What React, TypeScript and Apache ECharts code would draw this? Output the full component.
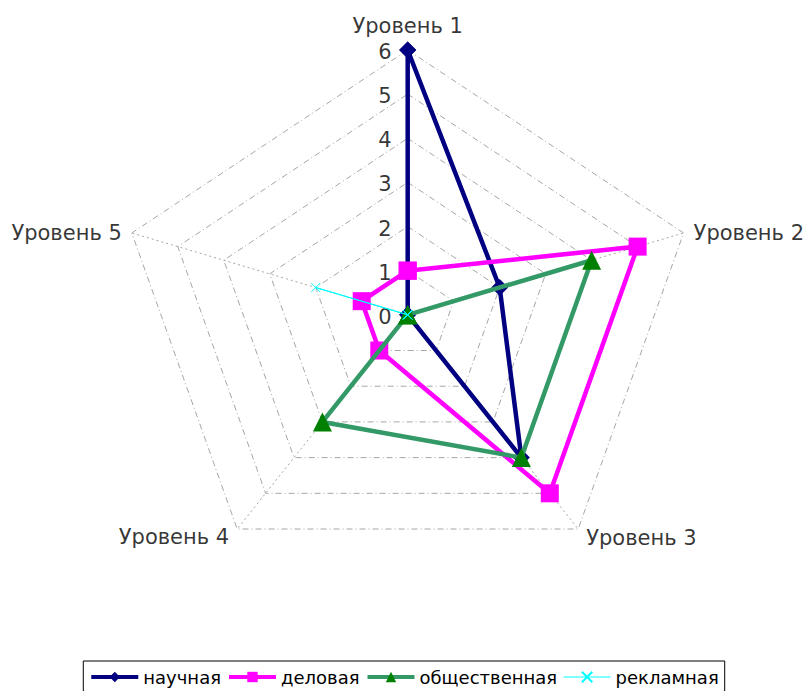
import React, { useEffect, useRef } from "react";
import * as echarts from "echarts";

const categories = ["Уровень 1", "Уровень 2", "Уровень 3", "Уровень 4", "Уровень 5"];
const tickLabels = [0, 1, 2, 3, 4, 5, 6];
const seriesNames = ["научная", "деловая", "общественная", "рекламная"];
const nauchnaya = [6, 2, 4, 0, 0];
const delovaya = [1, 5, 5, 1, 1];
const obshchestvennaya = [0, 4, 4, 3, 0];
const reklamnaya = [0, 0, 0, 0, 2];

const MAXV = 6;

function toXY(v: number, i: number): [number, number] {
  const a = ((90 - 72 * i) * Math.PI) / 180;
  return [v * Math.cos(a), v * Math.sin(a)];
}

function closedPolygon(values: number[]): [number, number][] {
  const pts = values.map((v, i) => toXY(v, i));
  pts.push(pts[0]);
  return pts;
}

export default function App() {
  const ref = useRef<HTMLDivElement>(null);

  useEffect(() => {
    document.body.style.margin = "0";
    if (!ref.current) return;
    const chart = echarts.init(ref.current, undefined, { renderer: "svg" });
    const font = "DejaVu Sans";

    const ringSeries: any[] = tickLabels
      .filter((k) => k > 0)
      .map((k) => ({
        type: "line",
        name: "ring" + k,
        data: closedPolygon(categories.map(() => k)),
        symbol: "none",
        silent: true,
        lineStyle: { color: "#a6a6a6", width: 1, type: [6, 3, 1, 3] },
        z: 1,
      }));

    const spokeSeries: any[] = categories.map((c, i) => ({
      type: "line",
      name: "spoke" + i,
      data: [[0, 0], toXY(MAXV, i)],
      symbol: "none",
      silent: true,
      lineStyle: { color: "#a6a6a6", width: 1, type: [2, 3] },
      z: 1,
    }));

    const tickSeries = {
      type: "scatter",
      name: "ticks",
      silent: true,
      symbolSize: 0,
      data: tickLabels.map((k) => ({ value: [0, k], name: String(k) })),
      label: {
        show: true,
        position: "left",
        distance: 16,
        offset: [0, 2],
        formatter: (p: any) => p.name,
        fontFamily: font,
        fontSize: 21,
        color: "#000",
      },
      z: 3,
    };

    const catLabelStyles: any[] = [
      { position: "top", distance: 14, offset: [0, 0] },
      { position: "right", distance: 10, offset: [0, 0] },
      { position: "right", distance: 8, offset: [0, 9] },
      { position: "left", distance: 8, offset: [0, 8] },
      { position: "left", distance: 10, offset: [0, 0] },
    ];

    const catSeries = {
      type: "scatter",
      name: "cats",
      silent: true,
      symbolSize: 0,
      data: categories.map((c, i) => ({
        value: toXY(MAXV, i),
        name: c,
        label: catLabelStyles[i],
      })),
      label: {
        show: true,
        formatter: (p: any) => p.name,
        fontFamily: font,
        fontSize: 21,
        color: "#000",
      },
      z: 3,
    };

    const styles = [
      { line: "#000080", mark: "#000080", symbol: "diamond", size: 17, width: 4.5 },
      { line: "#FF00FF", mark: "#FF00FF", symbol: "rect", size: 18, width: 4.5 },
      { line: "#339966", mark: "#008000", symbol: "triangle", size: 19, width: 4.5 },
      { line: "#00FFFF", mark: "rgba(0,0,0,0)", symbol: "path://M0,0L10,10M10,0L0,10", size: 9, width: 1 },
    ];
    const values = [nauchnaya, delovaya, obshchestvennaya, reklamnaya];

    const dataSeries = seriesNames.map((name, i) => ({
      type: "line",
      name,
      data: closedPolygon(values[i]),
      symbol: styles[i].symbol,
      symbolSize: styles[i].size,
      showAllSymbol: true,
      lineStyle: { color: styles[i].line, width: styles[i].width },
      itemStyle:
        i === 3
          ? { color: styles[i].mark, borderColor: "#00FFFF", borderWidth: 1 }
          : { color: styles[i].mark },
      z: 5 + i,
    }));

    chart.setOption({
      animation: false,
      backgroundColor: "#fff",
      grid: { left: 117.6, right: 110.2, top: 50, bottom: 111.4 },
      xAxis: { type: "value", min: -MAXV, max: MAXV, show: false },
      yAxis: { type: "value", min: -MAXV, max: MAXV, show: false },
      legend: {
        data: seriesNames.map((name, i) => ({
          name,
          lineStyle: { width: i === 3 ? 1 : 4 },
        })),
        left: "center",
        top: 661,
        borderColor: "#000",
        borderWidth: 1,
        padding: [7, 6, 7, 6],
        itemGap: 6,
        itemWidth: 47,
        itemHeight: 13,
        textStyle: { fontFamily: font, fontSize: 18, color: "#000" },
      },
      series: [...ringSeries, ...spokeSeries, ...dataSeries, tickSeries, catSeries],
    });

    return () => chart.dispose();
  }, []);

  return <div ref={ref} style={{ width: 808, height: 691 }} />;
}
